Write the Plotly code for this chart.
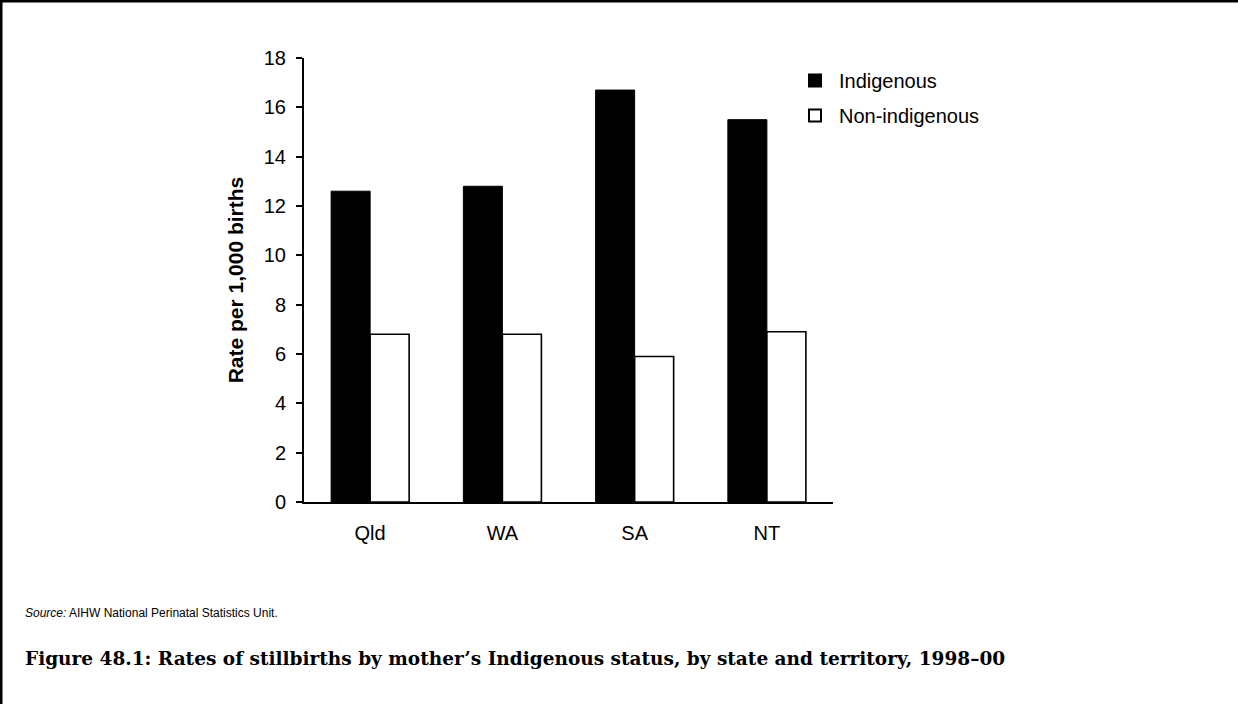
import plotly.graph_objects as go

# ── Data ──────────────────────────────────────────────────────────────────────
STATES         = ["Qld", "WA", "SA", "NT"]
INDIGENOUS     = [12.6, 12.8, 16.7, 15.5]
NON_INDIGENOUS = [6.8, 6.8, 5.9, 6.9]
Y_TICKS        = [0, 2, 4, 6, 8, 10, 12, 14, 16, 18]

# ── Design tokens ─────────────────────────────────────────────────────────────
SANS  = "Liberation Sans, Arial, sans-serif"
SERIF = "DejaVu Serif, Liberation Serif, serif"
W, H = 1238, 704
L, R, T, B = 304, 405, 58, 202   # plot area in pixels


def px_x(x):
    return (x - L) / (W - L - R)


def px_y(y):
    return (H - B - y) / (H - T - B)


fig = go.Figure()
fig.add_trace(go.Bar(
    name="Indigenous", x=STATES, y=INDIGENOUS,
    marker=dict(color="black", line=dict(color="black", width=1)),
    legendgroup="a",
))
fig.add_trace(go.Bar(
    name="Non-indigenous", x=STATES, y=NON_INDIGENOUS,
    marker=dict(color="white", line=dict(color="black", width=1.6)),
    legendgroup="b",
))

# page frame (top & left edge) + text
shapes = [
    dict(type="line", xref="paper", yref="paper",
         x0=px_x(0), x1=px_x(W), y0=px_y(1), y1=px_y(1),
         line=dict(color="black", width=3)),
    dict(type="line", xref="paper", yref="paper",
         x0=px_x(1), x1=px_x(1), y0=px_y(0), y1=px_y(H),
         line=dict(color="black", width=3)),
]

annotations = [
    dict(text="<i>Source:</i> AIHW National Perinatal Statistics Unit.",
         xref="paper", yref="paper", x=px_x(23), y=px_y(613),
         xanchor="left", yanchor="middle", showarrow=False,
         font=dict(family=SANS, size=12, color="black")),
    dict(text="<b>Figure 48.1: Rates of stillbirths by mother’s Indigenous status, "
              "by state and territory, 1998–00</b>",
         xref="paper", yref="paper", x=px_x(23), y=px_y(658),
         xanchor="left", yanchor="middle", showarrow=False,
         font=dict(family=SERIF, size=18.5, color="black")),
]

fig.update_layout(
    width=W, height=H,
    paper_bgcolor="white", plot_bgcolor="white",
    font=dict(family=SANS, color="black", size=20),
    barmode="group", bargap=0.41, bargroupgap=0,
    margin=dict(l=L, r=R, t=T, b=B, autoexpand=False),
    showlegend=True,
    legend=dict(
        x=px_x(791), y=px_y(61), xanchor="left", yanchor="top",
        font=dict(family=SANS, size=20, color="black"),
        bgcolor="rgba(0,0,0,0)", tracegroupgap=6,
        itemsizing="constant", itemwidth=38,
    ),
    xaxis=dict(
        showline=True, linecolor="black", linewidth=2,
        ticks="", showgrid=False, zeroline=False,
        ticklabelstandoff=12,
        tickfont=dict(size=20),
    ),
    yaxis=dict(
        range=[0, 18], tickvals=Y_TICKS,
        showline=True, linecolor="black", linewidth=2,
        ticks="outside", ticklen=6, tickwidth=2, tickcolor="black",
        showgrid=False, zeroline=False,
        ticklabelstandoff=6,
        tickfont=dict(size=20),
        title=dict(text="<b>Rate per 1,000 births</b>", standoff=14,
                   font=dict(size=21)),
    ),
    shapes=shapes,
    annotations=annotations,
)

fig.write_html("out.html", config={"displayModeBar": False},
               post_script="document.body.style.margin='0';")
